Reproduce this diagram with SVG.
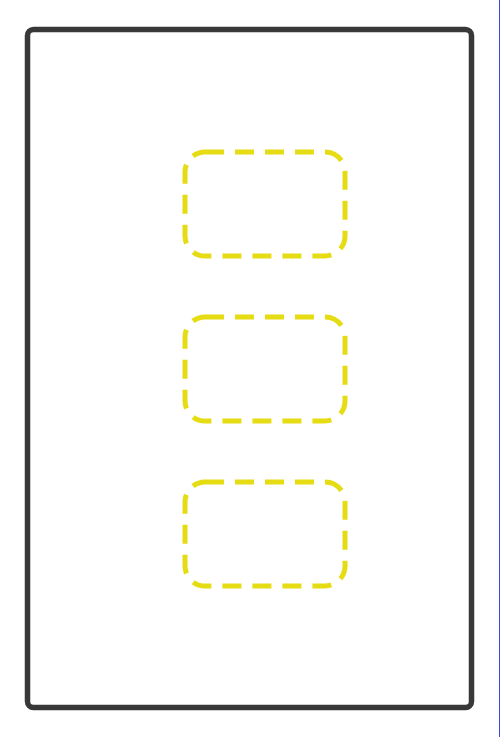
<svg xmlns="http://www.w3.org/2000/svg" width="500" height="737" viewBox="0 0 500 737">
<style>
.frame{fill:#ffffff;stroke:#383838;stroke-width:5.5}
.slot{fill:none;stroke:#e6dc14;stroke-width:5;stroke-dasharray:19 11}
</style>
<rect width="500" height="737" fill="#ffffff"/>
<g id="frame"><rect class="frame" x="27.5" y="29.5" width="444" height="678" rx="6"/></g>
<g id="slot1"><rect class="slot" x="185" y="152" width="160" height="104" rx="20"/></g>
<g id="slot2"><rect class="slot" x="185" y="317" width="160" height="104" rx="20"/></g>
<g id="slot3"><rect class="slot" x="185" y="482" width="160" height="104" rx="20"/></g>
<g id="connectors"></g>
<line x1="499.5" y1="0" x2="499.5" y2="737" stroke="#3050e0" stroke-width="1"/>
</svg>
